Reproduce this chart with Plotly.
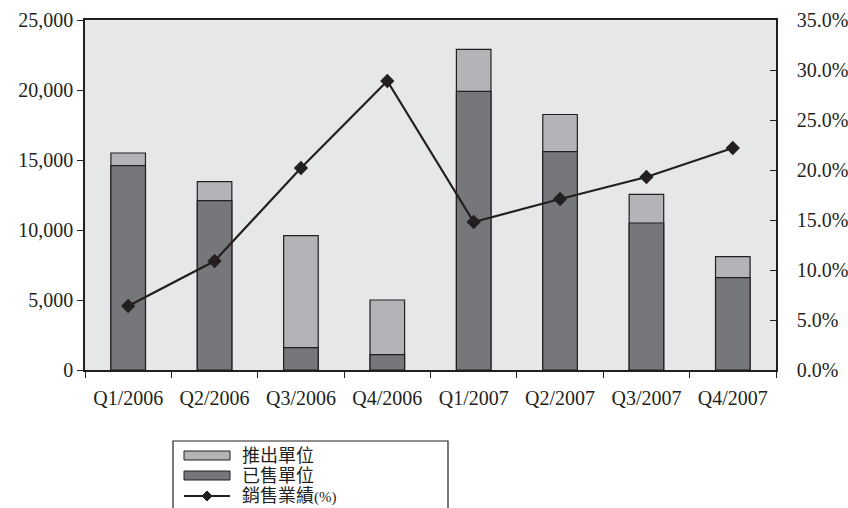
import plotly.graph_objects as go

# Quarterly figures
quarters = ["Q1/2006", "Q2/2006", "Q3/2006", "Q4/2006",
            "Q1/2007", "Q2/2007", "Q3/2007", "Q4/2007"]
launched_units = [15500, 13450, 9600, 5000, 22900, 18250, 12550, 8100]
sold_units = [14600, 12100, 1600, 1100, 19900, 15600, 10500, 6600]
sales_rate = [0.064, 0.109, 0.202, 0.289, 0.148, 0.171, 0.193, 0.222]

left_ticks = [0, 5000, 10000, 15000, 20000, 25000]
right_ticks = [0, 0.05, 0.10, 0.15, 0.20, 0.25, 0.30, 0.35]

INK = "#231f20"
LIGHT = "#b3b4b7"
DARK = "#76777b"
SERIF = "Liberation Serif, Times New Roman, serif"
CJK = "Liberation Serif, Noto Sans CJK TC, serif"

W, H = 848, 508
L, R, T, B = 85, 776, 20, 370  # plot area in pixels

fig = go.Figure()
fig.add_trace(go.Bar(x=quarters, y=launched_units, name="推出單位", width=0.4,
                     marker=dict(color=LIGHT, line=dict(color=INK, width=1.2))))
fig.add_trace(go.Bar(x=quarters, y=sold_units, name="已售單位", width=0.4,
                     marker=dict(color=DARK, line=dict(color=INK, width=1.2))))
fig.add_trace(go.Scatter(x=quarters, y=sales_rate, name="銷售業績(%)", yaxis="y2",
                         mode="lines+markers",
                         line=dict(color=INK, width=2.2),
                         marker=dict(symbol="diamond", size=11, color=INK)))


def px(x):
    return (x - L) / (R - L)


def py(y):
    return (B - y) / (B - T)


shapes = [
    # legend frame (runs off the bottom of the page)
    dict(type="rect", xref="paper", yref="paper", x0=px(173), x1=px(448),
         y0=py(441), y1=py(540), line=dict(color=INK, width=1.2), fillcolor="white"),
    dict(type="rect", xref="paper", yref="paper", x0=px(184), x1=px(230),
         y0=py(451), y1=py(460), line=dict(color=INK, width=1), fillcolor=LIGHT),
    dict(type="rect", xref="paper", yref="paper", x0=px(184), x1=px(230),
         y0=py(471), y1=py(480), line=dict(color=INK, width=1), fillcolor=DARK),
    dict(type="line", xref="paper", yref="paper", x0=px(184), x1=px(230),
         y0=py(496), y1=py(496), line=dict(color=INK, width=2.2)),
    dict(type="path", xref="paper", yref="paper",
         path=(f"M {px(207)} {py(491)} L {px(212)} {py(496)} "
               f"L {px(207)} {py(501)} L {px(202)} {py(496)} Z"),
         line=dict(color=INK, width=1), fillcolor=INK),
]

annotations = []
for label, ycen in [("推出單位", 456), ("已售單位", 476),
                    ("銷售業績<span style='font-size:15px'>(%)</span>", 496)]:
    annotations.append(dict(text=label, xref="paper", yref="paper",
                            x=px(240), y=py(ycen), xanchor="left", yanchor="middle",
                            showarrow=False, font=dict(family=CJK, size=18, color=INK)))

fig.update_layout(
    width=W, height=H,
    margin=dict(l=L, r=W - R, t=T, b=H - B, autoexpand=False),
    paper_bgcolor="white",
    plot_bgcolor="#e6e7e8",
    barmode="overlay",
    showlegend=False,
    font=dict(family=SERIF, size=20, color=INK),
    xaxis=dict(type="category", tickson="boundaries", ticks="outside", ticklen=6,
               tickcolor=INK, showline=True, linecolor=INK, linewidth=1.5,
               mirror=True, showgrid=False, ticklabelstandoff=9, automargin=False,
               tickfont=dict(family=SERIF, size=20, color=INK)),
    yaxis=dict(range=[0, 25000], tickvals=left_ticks, tickformat=",",
               ticks="outside", ticklen=6, tickcolor=INK, showline=True,
               linecolor=INK, linewidth=1.5, showgrid=False, zeroline=False,
               automargin=False,
               tickfont=dict(family=SERIF, size=20, color=INK)),
    yaxis2=dict(range=[0, 0.35], tickvals=right_ticks, tickformat=".1%",
                overlaying="y", side="right", ticks="inside", ticklen=6,
                tickcolor=INK, showline=True, linecolor=INK, linewidth=1.5,
                showgrid=False, zeroline=False, ticklabelstandoff=15,
                automargin=False,
                tickfont=dict(family=SERIF, size=20, color=INK)),
    shapes=shapes,
    annotations=annotations,
)

fig.write_html("out.html")
